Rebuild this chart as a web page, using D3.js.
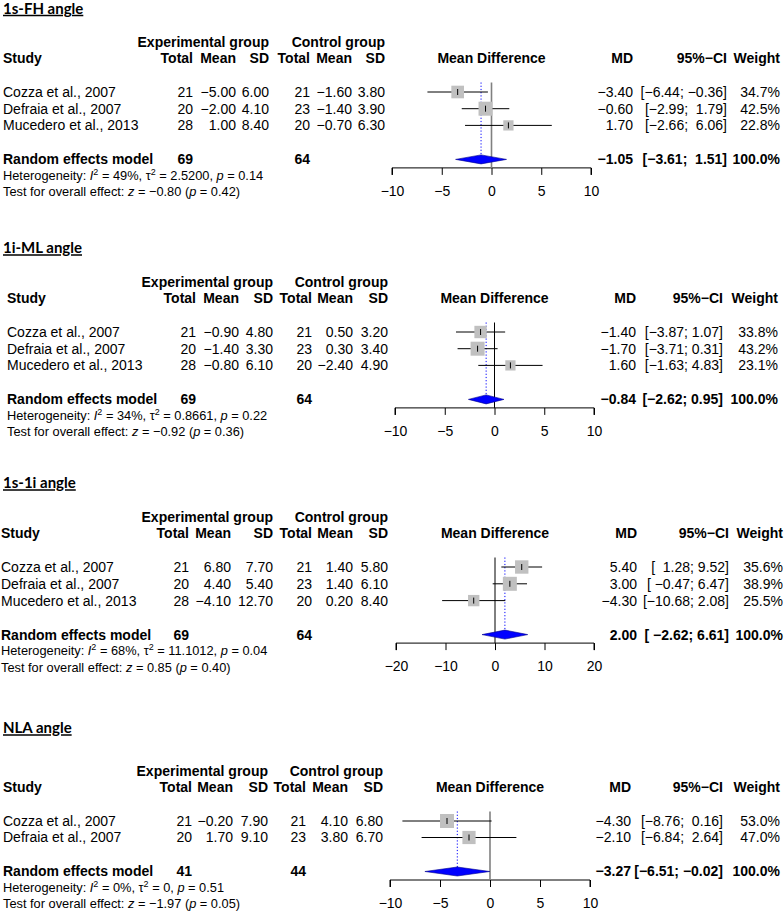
<!DOCTYPE html>
<html><head><meta charset="utf-8">
<script src="https://cdn.jsdelivr.net/npm/d3@7"></script>
<style>
html,body{margin:0;padding:0;background:#fff;}
text{font-family:"Liberation Sans",Arial,Helvetica,sans-serif;white-space:pre;}
</style></head>
<body>
<svg id="chart" width="784" height="911"></svg>
<script>
// ---------------- DATA ----------------
const panelTitles = ["1s-FH angle", "1i-ML angle", "1s-1i angle", "NLA angle"];
const studyNames = [
  ["Cozza et al., 2007", "Defraia et al., 2007", "Mucedero et al., 2013"],
  ["Cozza et al., 2007", "Defraia et al., 2007", "Mucedero et al., 2013"],
  ["Cozza et al., 2007", "Defraia et al., 2007", "Mucedero et al., 2013"],
  ["Cozza et al., 2007", "Defraia et al., 2007"]
];
const expTotal = [[21, 20, 28], [21, 20, 28], [21, 20, 28], [21, 20]];
const expMean = [[-5.00, -2.00, 1.00], [-0.90, -1.40, -0.80], [6.80, 4.40, -4.10], [-0.20, 1.70]];
const expSD = [[6.00, 4.10, 8.40], [4.80, 3.30, 6.10], [7.70, 5.40, 12.70], [7.90, 9.10]];
const ctrlTotal = [[21, 23, 20], [21, 23, 20], [21, 23, 20], [21, 23]];
const ctrlMean = [[-1.60, -1.40, -0.70], [0.50, 0.30, -2.40], [1.40, 1.40, 0.20], [4.10, 3.80]];
const ctrlSD = [[3.80, 3.90, 6.30], [3.20, 3.40, 4.90], [5.80, 6.10, 8.40], [6.80, 6.70]];
const mdValues = [[-3.40, -0.60, 1.70], [-1.40, -1.70, 1.60], [5.40, 3.00, -4.30], [-4.30, -2.10]];
const ciLow = [[-6.44, -2.99, -2.66], [-3.87, -3.71, -1.63], [1.28, -0.47, -10.68], [-8.76, -6.84]];
const ciHigh = [[-0.36, 1.79, 6.06], [1.07, 0.31, 4.83], [9.52, 6.47, 2.08], [0.16, 2.64]];
const weights = [[34.7, 42.5, 22.8], [33.8, 43.2, 23.1], [35.6, 38.9, 25.5], [53.0, 47.0]];
const pooledExpTotal = [69, 69, 69, 41];
const pooledCtrlTotal = [64, 64, 64, 44];
const pooledMD = [-1.05, -0.84, 2.00, -3.27];
const pooledLow = [-3.61, -2.62, -2.62, -6.51];
const pooledHigh = [1.51, 0.95, 6.61, -0.02];
const hetI2 = ["49%", "34%", "68%", "0%"];
const hetTau2 = ["2.5200", "0.8661", "11.1012", "0"];
const hetP = ["0.14", "0.22", "0.04", "0.51"];
const testZ = [-0.80, -0.92, 0.85, -1.97];
const testP = ["0.42", "0.36", "0.40", "0.05"];
const axisTicks = [[-10, -5, 0, 5, 10], [-10, -5, 0, 5, 10], [-20, -10, 0, 10, 20], [-10, -5, 0, 5, 10]];

// ---------------- LAYOUT ----------------
const layout = [
  {titleY: 8.5, hdrY: 42, studyX: 3, cols: [193, 236, 269, 310, 352, 385], ax: [392, 591], mdX: 633, ciX: 727, wX: 780, step: 16.7, zeroColor: "#808080", zeroW: 1.6},
  {titleY: 248, hdrY: 282, studyX: 7, cols: [196, 239, 273, 312, 353, 388], ax: [395, 594], mdX: 636, ciX: 723, wX: 778, step: 16.7, zeroColor: "#000", zeroW: 1},
  {titleY: 483, hdrY: 517, studyX: 1, cols: [189, 231, 273, 312, 353, 388], ax: [396, 594], mdX: 637, ciX: 729, wX: 783, step: 16.8, zeroColor: "#000", zeroW: 1},
  {titleY: 728, hdrY: 771, studyX: 3, cols: [192, 233, 268, 306, 348, 383], ax: [390, 590], mdX: 631, ciX: 723, wX: 780, step: 16.5, zeroColor: "#808080", zeroW: 1.6}
];
const FS = 14, FS_SMALL = 12.8;
const MINUS = "\u2212";
const f2 = v => d3.format(".2f")(v).replace("-", MINUS);
const padTo = (arr) => { const w = d3.max(arr, s => s.length); return arr.map(s => s.padStart(w, " ")); };

const svg = d3.select("#chart");

function txt(g, x, y, s, opts = {}) {
  return g.append("text").attr("x", x).attr("y", y).attr("dy", "0.35em")
    .attr("text-anchor", opts.anchor || "start")
    .attr("font-size", opts.size || FS)
    .attr("font-weight", opts.bold ? "bold" : "normal")
    .attr("fill", "#000")
    .text(s);
}

panelTitles.forEach((title, p) => {
  const L = layout[p];
  const g = svg.append("g");
  const n = studyNames[p].length;
  const rowY = d3.range(n).map(i => L.hdrY + 50 + i * L.step);
  const randY = rowY[n - 1] + 34;
  const axisY = randY + 8.5;
  const topY = rowY[0] - 9.5;

  // Title
  g.append("text").attr("x", 3).attr("y", L.titleY).attr("dy", "0.35em")
    .attr("font-weight", "bold")
    .attr("font-size", 15).attr("text-decoration", "underline").attr("fill", "#000")
    .style("font-family", "Lato, 'Open Sans', sans-serif")
    .text(title);

  // Headers
  txt(g, L.cols[2], L.hdrY, "Experimental group", {anchor: "end", bold: true});
  txt(g, L.cols[5], L.hdrY, "Control group", {anchor: "end", bold: true});
  const hY = L.hdrY + 16.5;
  txt(g, L.studyX, hY, "Study", {bold: true});
  ["Total", "Mean", "SD", "Total", "Mean", "SD"].forEach((h, i) => txt(g, L.cols[i], hY, h, {anchor: "end", bold: true}));
  txt(g, (L.ax[0] + L.ax[1]) / 2, hY, "Mean Difference", {anchor: "middle", bold: true});
  txt(g, L.mdX, hY, "MD", {anchor: "end", bold: true});
  txt(g, L.ciX, hY, "95%" + MINUS + "CI", {anchor: "end", bold: true});
  txt(g, L.wX, hY, "Weight", {anchor: "end", bold: true});

  // Study rows
  const lowStr = padTo(ciLow[p].concat([pooledLow[p]]).map(f2));
  const highStr = padTo(ciHigh[p].concat([pooledHigh[p]]).map(f2));
  const ciStr = lowStr.map((l, i) => "[" + l + "; " + highStr[i] + "]");
  studyNames[p].forEach((name, i) => {
    const y = rowY[i];
    txt(g, L.studyX, y, name);
    const vals = [String(expTotal[p][i]), f2(expMean[p][i]), f2(expSD[p][i]),
                  String(ctrlTotal[p][i]), f2(ctrlMean[p][i]), f2(ctrlSD[p][i])];
    vals.forEach((v, j) => txt(g, L.cols[j], y, v, {anchor: "end"}));
    txt(g, L.mdX, y, f2(mdValues[p][i]), {anchor: "end"});
    txt(g, L.ciX, y, ciStr[i], {anchor: "end"});
    txt(g, L.wX, y, d3.format(".1f")(weights[p][i]) + "%", {anchor: "end"});
  });

  // Pooled row
  txt(g, L.studyX, randY, "Random effects model", {bold: true});
  txt(g, L.cols[0], randY, String(pooledExpTotal[p]), {anchor: "end", bold: true});
  txt(g, L.cols[3], randY, String(pooledCtrlTotal[p]), {anchor: "end", bold: true});
  txt(g, L.mdX, randY, f2(pooledMD[p]), {anchor: "end", bold: true});
  txt(g, L.ciX, randY, ciStr[n], {anchor: "end", bold: true});
  txt(g, L.wX, randY, "100.0%", {anchor: "end", bold: true});

  // Heterogeneity line
  const SUP = 5;
  const het = g.append("text").attr("x", L.studyX).attr("y", randY + 16).attr("dy", "0.35em")
    .attr("font-size", FS_SMALL).attr("fill", "#000");
  het.append("tspan").text("Heterogeneity: ");
  het.append("tspan").attr("font-style", "italic").text("I");
  het.append("tspan").attr("font-size", FS_SMALL * 0.7).attr("dy", -SUP).text("2");
  het.append("tspan").attr("dy", SUP).text(" = " + hetI2[p] + ", \u03c4");
  het.append("tspan").attr("font-size", FS_SMALL * 0.7).attr("dy", -SUP).text("2");
  het.append("tspan").attr("dy", SUP).text(" = " + hetTau2[p] + ", ");
  het.append("tspan").attr("font-style", "italic").text("p");
  het.append("tspan").text(" = " + hetP[p]);

  const tst = g.append("text").attr("x", L.studyX).attr("y", randY + 32.5).attr("dy", "0.35em")
    .attr("font-size", FS_SMALL).attr("fill", "#000");
  tst.append("tspan").text("Test for overall effect: ");
  tst.append("tspan").attr("font-style", "italic").text("z");
  tst.append("tspan").text(" = " + f2(testZ[p]) + " (");
  tst.append("tspan").attr("font-style", "italic").text("p");
  tst.append("tspan").text(" = " + testP[p] + ")");

  // Forest plot
  const ticks = axisTicks[p];
  const x = d3.scaleLinear().domain([ticks[0], ticks[ticks.length - 1]]).range(L.ax);
  const axis = d3.axisBottom(x).tickValues(ticks).tickSize(7).tickPadding(11)
    .tickFormat(d => String(d).replace("-", MINUS));
  const ag = g.append("g").attr("transform", `translate(0,${axisY})`).call(axis);
  ag.select(".domain").attr("d", `M${L.ax[0]},7V0H${L.ax[1]}V7`).attr("stroke", "#000");
  ag.selectAll(".tick line").attr("stroke", "#000");
  ag.selectAll(".tick text").attr("font-size", FS).attr("font-family", "Liberation Sans, Arial, sans-serif").attr("fill", "#000");

  // zero line
  g.append("line").attr("x1", x(0)).attr("x2", x(0)).attr("y1", topY).attr("y2", axisY)
    .attr("stroke", L.zeroColor).attr("stroke-width", L.zeroW);
  // pooled dotted line
  g.append("line").attr("x1", x(pooledMD[p])).attr("x2", x(pooledMD[p])).attr("y1", topY).attr("y2", randY - 4.5)
    .attr("stroke", "#0000ff").attr("stroke-width", 1).attr("stroke-dasharray", "1.2,2");

  const maxW = d3.max(weights[p]);
  studyNames[p].forEach((name, i) => {
    const y = rowY[i];
    g.append("line").attr("x1", x(ciLow[p][i])).attr("x2", x(ciHigh[p][i])).attr("y1", y).attr("y2", y)
      .attr("stroke", "#000").attr("stroke-width", 1);
    const s = 14 * Math.sqrt(weights[p][i] / maxW);
    g.append("rect").attr("x", x(mdValues[p][i]) - s / 2).attr("y", y - s / 2).attr("width", s).attr("height", s)
      .attr("fill", "#c0c0c0");
    g.append("line").attr("x1", x(mdValues[p][i])).attr("x2", x(mdValues[p][i])).attr("y1", y - 3).attr("y2", y + 3)
      .attr("stroke", "#000").attr("stroke-width", 1);
  });

  // diamond
  const dh = 4.5;
  g.append("path")
    .attr("d", `M${x(pooledLow[p])},${randY}L${x(pooledMD[p])},${randY - dh}L${x(pooledHigh[p])},${randY}L${x(pooledMD[p])},${randY + dh}Z`)
    .attr("fill", "#0000ff").attr("stroke", "#00008b").attr("stroke-width", 0.6);
});
</script>
</body></html>
